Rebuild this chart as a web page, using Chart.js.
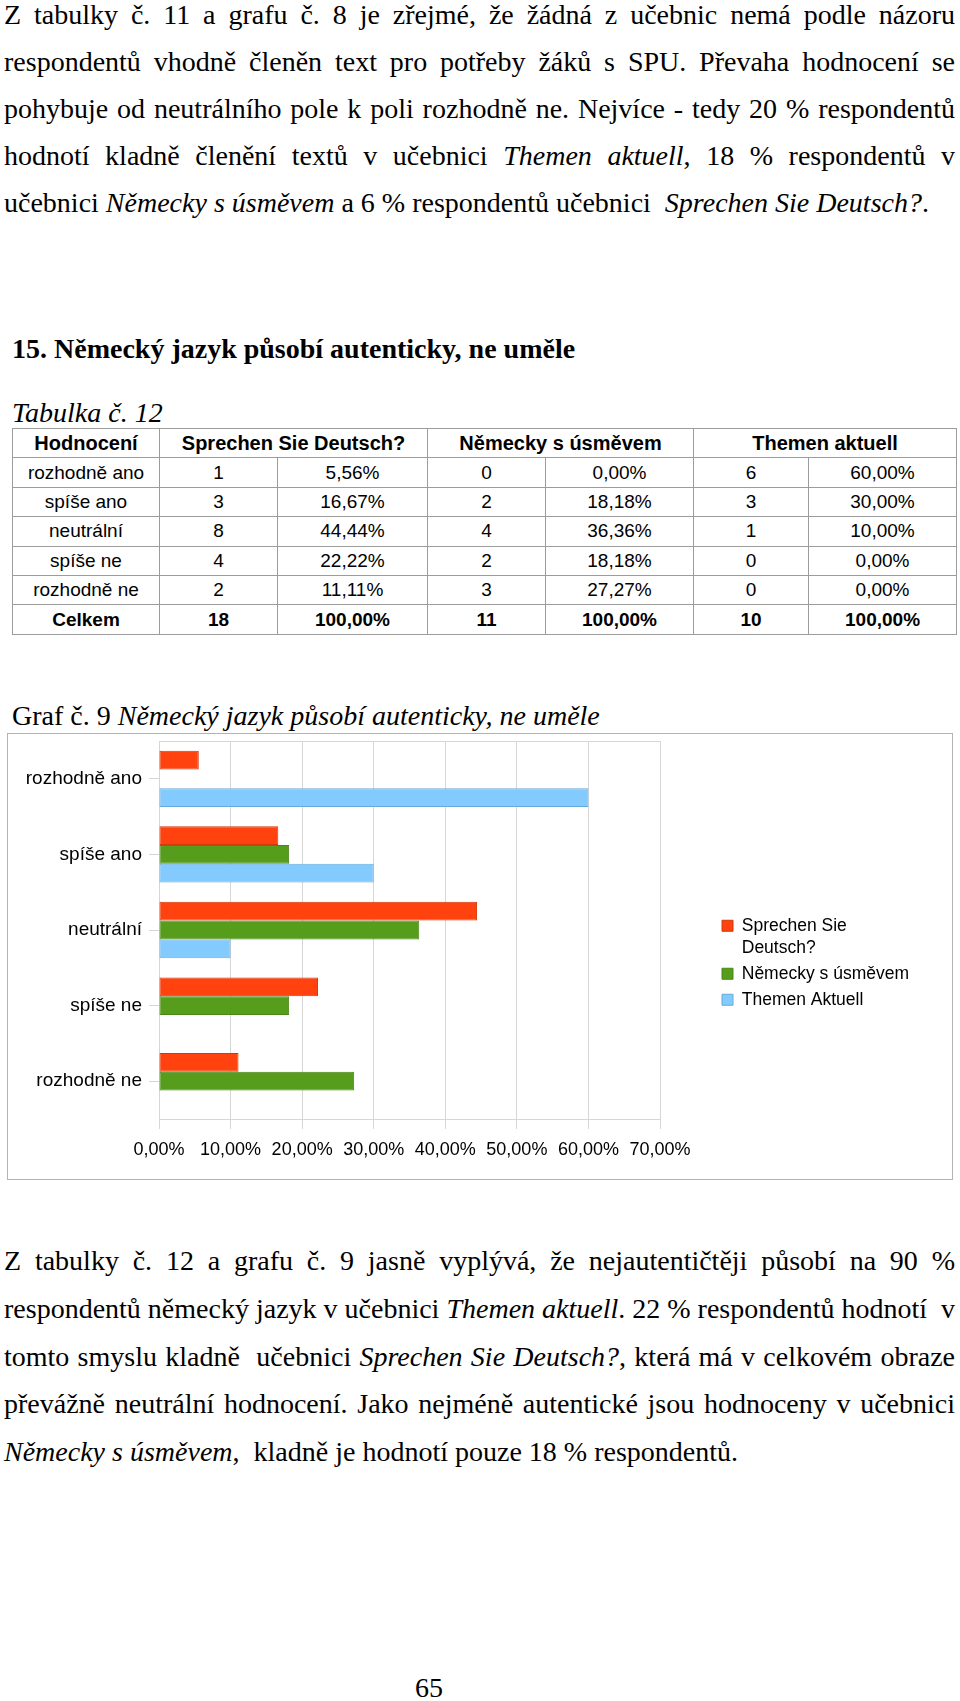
<!DOCTYPE html>
<html lang="cs">
<head>
<meta charset="utf-8">
<title>Graf č. 9</title>
<script src="https://cdn.jsdelivr.net/npm/chart.js@4.4.1/dist/chart.umd.min.js"></script>
<style>
html,body{margin:0;padding:0;background:#fff;}
body{width:960px;height:1701px;position:relative;overflow:hidden;font-family:'Liberation Serif','Times New Roman',serif;color:#000;}
.para{position:absolute;left:4px;width:951px;font-size:28px;}
.para div{text-align:justify;text-align-last:justify;}
.para div.last{text-align:left;text-align-last:left;}
#p1{top:-9px;line-height:47px;}
#p2{top:1237px;line-height:47.75px;}
.cap{position:absolute;left:12px;font-size:28px;line-height:32px;white-space:nowrap;}
#h15{top:332.5px;font-weight:bold;}
#tab{top:396.5px;font-style:italic;}
#graf{top:699.5px;}
#pg{position:absolute;left:409px;width:40px;text-align:center;top:1671.5px;font-size:28px;line-height:32px;}
table{position:absolute;left:12px;top:428px;border-collapse:collapse;table-layout:fixed;width:944px;font-family:'Liberation Sans',Arial,sans-serif;font-size:19px;color:#000;}
td,th{border:1px solid #9c9c9c;padding:0;height:28.4px;text-align:center;vertical-align:middle;font-weight:normal;white-space:nowrap;}
th{font-weight:bold;font-size:20px;}
tr.total td{font-weight:bold;}
#box{position:absolute;left:7px;top:733px;width:944px;height:445px;border:1px solid #b3b3b3;}
#box canvas{position:absolute;left:0;top:0;}
</style>
</head>
<body>

<div id="p1" class="para">
<div>Z tabulky č. 11 a grafu č. 8 je zřejmé, že žádná z učebnic nemá podle názoru</div>
<div>respondentů vhodně členěn text pro potřeby žáků s SPU. Převaha hodnocení se</div>
<div>pohybuje od neutrálního pole k poli rozhodně ne. Nejvíce - tedy 20 % respondentů</div>
<div>hodnotí kladně členění textů v učebnici <i>Themen aktuell</i>, 18 % respondentů v</div>
<div class="last">učebnici <i>Německy s úsměvem</i> a 6 % respondentů učebnici &nbsp;<i>Sprechen Sie Deutsch?</i>.</div>
</div>

<div id="h15" class="cap">15. Německý jazyk působí autenticky, ne uměle</div>
<div id="tab" class="cap">Tabulka č. 12</div>

<table id="tbl">
<colgroup><col style="width:147px"><col style="width:118px"><col style="width:150px"><col style="width:118px"><col style="width:148px"><col style="width:115px"><col style="width:148px"></colgroup>
<tbody id="tbody"></tbody>
</table>

<div id="graf" class="cap">Graf č. 9 <i>Německý jazyk působí autenticky, ne uměle</i></div>

<div id="box"><canvas id="chart" width="944" height="445"></canvas></div>

<div id="p2" class="para">
<div>Z tabulky č. 12 a grafu č. 9 jasně vyplývá, že nejautentičtěji působí na 90 %</div>
<div>respondentů německý jazyk v učebnici <i>Themen aktuell</i>. 22 % respondentů hodnotí &nbsp;v</div>
<div>tomto smyslu kladně &nbsp;učebnici <i>Sprechen Sie Deutsch?</i>, která má v celkovém obraze</div>
<div>převážně neutrální hodnocení. Jako nejméně autentické jsou hodnoceny v učebnici</div>
<div class="last"><i>Německy s úsměvem</i>, &nbsp;kladně je hodnotí pouze 18 % respondentů.</div>
</div>

<div id="pg">65</div>

<script>
// ---- data ----
const categories = ['rozhodně ano', 'spíše ano', 'neutrální', 'spíše ne', 'rozhodně ne'];
const seriesNames = ['Sprechen Sie Deutsch?', 'Německy s úsměvem', 'Themen Aktuell'];
const legendLines = [['Sprechen Sie', 'Deutsch?'], ['Německy s úsměvem'], ['Themen Aktuell']];
const sprechenPct = [5.56, 16.67, 44.44, 22.22, 11.11];
const nemeckyPct = [0, 18.18, 36.36, 18.18, 27.27];
const themenPct = [60, 30, 10, 0, 0];
const xTickLabels = ['0,00%', '10,00%', '20,00%', '30,00%', '40,00%', '50,00%', '60,00%', '70,00%'];

// table data
const tableHeaders = ['Hodnocení', 'Sprechen Sie Deutsch?', 'Německy s úsměvem', 'Themen aktuell'];
const sprechenCount = [1, 3, 8, 4, 2];
const nemeckyCount = [0, 2, 4, 2, 3];
const themenCount = [6, 3, 1, 0, 0];
const totalLabel = 'Celkem';
const totalCount = [18, 11, 10];
const totalPct = [100, 100, 100];

// ---- table ----
function fmtPct(v) { return v.toFixed(2).replace('.', ',') + '%'; }
(function buildTable() {
  const tb = document.getElementById('tbody');
  let html = '<tr><th>' + tableHeaders[0] + '</th>';
  for (let i = 1; i < tableHeaders.length; i++) html += '<th colspan="2">' + tableHeaders[i] + '</th>';
  html += '</tr>';
  const counts = [sprechenCount, nemeckyCount, themenCount];
  const pcts = [sprechenPct, nemeckyPct, themenPct];
  categories.forEach((c, r) => {
    html += '<tr><td>' + c + '</td>';
    for (let s = 0; s < 3; s++) html += '<td>' + counts[s][r] + '</td><td>' + fmtPct(pcts[s][r]) + '</td>';
    html += '</tr>';
  });
  html += '<tr class="total"><td>' + totalLabel + '</td>';
  for (let s = 0; s < 3; s++) html += '<td>' + totalCount[s] + '</td><td>' + fmtPct(totalPct[s]) + '</td>';
  html += '</tr>';
  tb.innerHTML = html;
})();

// ---- chart ----
const gridColor = '#d6d6d6';
const PLOT_RIGHT = 652;   // right edge of plot area inside the canvas
const LEGEND_GAP = 58;    // gap between plot and legend box
Chart.defaults.font.family = "'Liberation Sans', Arial, sans-serif";
Chart.defaults.color = '#000';

const frameTop = {
  id: 'frameTop',
  beforeDatasetsDraw(chart) {
    const {ctx, chartArea: a} = chart;
    ctx.save();
    ctx.strokeStyle = gridColor;
    ctx.lineWidth = 1;
    ctx.beginPath();
    ctx.moveTo(a.left, Math.round(a.top) + 0.5);
    ctx.lineTo(a.right, Math.round(a.top) + 0.5);
    ctx.stroke();
    ctx.restore();
  }
};
const legendShift = {
  id: 'legendShift',
  afterLayout(chart) {
    const lg = chart.legend;
    if (lg) { lg.left += LEGEND_GAP; lg.right += LEGEND_GAP; }
  }
};

const chart = new Chart(document.getElementById('chart'), {
  type: 'bar',
  data: {
    labels: categories,
    datasets: [
      {label: seriesNames[0], data: sprechenPct, backgroundColor: '#ff420e', borderColor: '#d2380d', borderWidth: 1},
      {label: seriesNames[1], data: nemeckyPct, backgroundColor: '#579d1c', borderColor: '#4a8618', borderWidth: 1},
      {label: seriesNames[2], data: themenPct, backgroundColor: '#83caff', borderColor: '#6aaad8', borderWidth: 1}
    ]
  },
  options: {
    indexAxis: 'y',
    responsive: false,
    animation: false,
    devicePixelRatio: 1,
    events: [],
    layout: {padding: {left: 0, top: 7, right: 90, bottom: 0}},
    datasets: {bar: {categoryPercentage: 0.745, barPercentage: 1.0, borderSkipped: false}},
    scales: {
      x: {
        type: 'linear', position: 'bottom', min: 0, max: 70,
        ticks: {stepSize: 10, autoSkip: false, maxRotation: 0, padding: 10, color: '#000', font: {size: 18},
                callback: (v, i) => xTickLabels[i]},
        grid: {color: gridColor, tickLength: 10, drawTicks: true},
        border: {color: gridColor},
        afterFit(s) { s.height = 60; s.paddingLeft = 0; s.paddingRight = 0; }
      },
      y: {
        type: 'category', position: 'left',
        ticks: {padding: 7, color: '#000', font: {size: 19}},
        grid: {drawOnChartArea: false, drawTicks: true, tickLength: 10, offset: false, color: gridColor},
        border: {color: gridColor},
        afterFit(s) { s.width = 151; s.paddingTop = 0; s.paddingBottom = 0; }
      }
    },
    plugins: {
      tooltip: {enabled: false},
      legend: {
        position: 'right', align: 'center',
        title: {display: true, text: '', padding: 0, font: {size: 10, lineHeight: 1}},
        labels: {
          boxWidth: 11, boxHeight: 11, padding: 4, color: '#000',
          font: {size: 17.5, lineHeight: '22px'},
          generateLabels(chart) {
            const items = Chart.defaults.plugins.legend.labels.generateLabels(chart);
            items.forEach((it, i) => { it.text = legendLines[i]; });
            return items;
          }
        }
      }
    }
  },
  plugins: [frameTop, legendShift]
});
// fix the plot's right edge: whatever the legend needs, the rest becomes right padding
chart.options.layout.padding.right = Math.max(LEGEND_GAP, chart.width - PLOT_RIGHT - chart.legend.width);
chart.update();
</script>
</body>
</html>
